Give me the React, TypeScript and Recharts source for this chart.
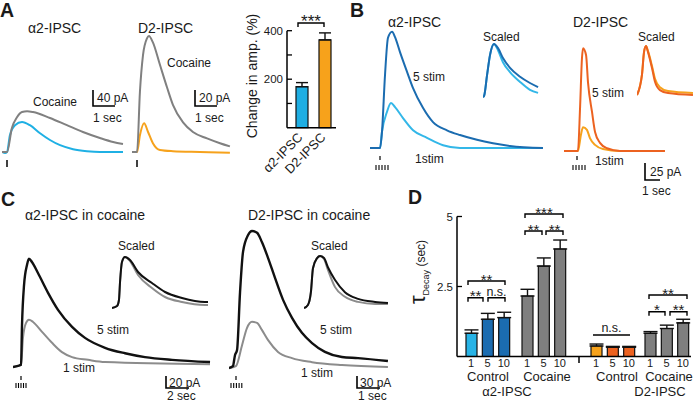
import React from 'react';
import { LineChart, Line, XAxis, YAxis, BarChart, Bar, Cell, ErrorBar } from 'recharts';

const FONT = '"Liberation Sans", Arial, Helvetica, sans-serif';
const INK = '#1a1a1a';

type Pt = [number, number];

// ---------- Panel A traces: [time (s), current (pA)] ----------
const aAlphaControl: Pt[] = [
  [0, 0], [0.14, -2.5], [0.23, 0], [0.36, 42], [0.59, 67], [0.91, 75], [1.27, 67], [1.73, 47],
  [2.18, 30], [2.64, 17], [3.23, 7], [3.86, 2], [4.45, 0], [5.5, 0],
];
const aAlphaCocaine: Pt[] = [
  [0, 0], [0.23, 0], [0.45, 60], [0.68, 87], [0.91, 100], [1.14, 102], [1.41, 100], [2.18, 85],
  [2.95, 67], [3.68, 50], [4.45, 35], [5.05, 25], [5.5, 20],
];
const aD2Control: Pt[] = [
  [0, 0], [0.23, 0], [0.36, 21], [0.55, 36], [0.73, 25], [0.95, 11], [1.27, 2.5], [1.86, 1], [3.09, 0], [4.45, -1],
];
const aD2Cocaine: Pt[] = [
  [0, 0], [0.23, 0], [0.36, 75], [0.5, 121], [0.68, 142], [0.77, 145], [0.95, 137], [1.27, 109],
  [1.59, 81], [1.86, 59], [2.32, 37], [2.77, 25], [3.41, 17], [4.0, 11], [4.45, 7],
];

// ---------- Panel A bar graph ----------
const aBarGroups = ['α2-IPSC', 'D2-IPSC'];
const aBarChange = [169, 362];
const aBarSem = [17, 29];
const aBarColors = ['#1eaee3', '#f7a21b'];

// ---------- Panel B traces ----------
const bAlpha5: Pt[] = [
  [0, 0], [0.67, 0], [0.8, 24], [1.0, 107], [1.2, 162], [1.47, 171], [1.67, 163], [2.0, 141], [2.47, 112],
  [2.87, 88], [3.53, 59], [4.2, 38], [5.13, 26], [6.0, 19], [7.13, 12], [8.2, 7], [9.33, 3], [11.53, 0],
];
const bAlpha1: Pt[] = [
  [0, 0], [0.67, 0], [0.8, 24], [1.13, 53], [1.4, 66], [1.67, 60], [2.2, 44], [2.87, 26], [3.8, 15],
  [4.87, 4], [6.0, 0], [11.53, 0],
];
const bAlpha5Scaled: Pt[] = [
  [0, -2], [0.07, 0], [0.27, 40], [0.47, 79], [0.73, 100], [1.0, 92], [1.33, 73], [1.8, 54], [2.47, 37], [3.13, 25], [3.67, 17],
];
const bAlpha1Scaled: Pt[] = [
  [0, -2], [0.07, 0], [0.27, 40], [0.47, 79], [0.73, 100], [1.0, 88], [1.33, 65], [1.8, 46], [2.47, 27], [3.13, 12], [3.67, 6],
];
const bD25: Pt[] = [
  [0, 0], [0.93, 0], [1.07, 63], [1.2, 137], [1.27, 151], [1.47, 141], [1.6, 101], [1.87, 57], [2.07, 28],
  [2.4, 12], [2.87, 4], [3.73, 0], [6.73, 0],
];
const bD21: Pt[] = [
  [0, 0], [0.93, 0], [1.13, 24], [1.27, 35], [1.53, 31], [1.73, 19], [2.07, 9], [2.6, 3], [3.73, 0], [6.73, 0],
];
const bD25Scaled: Pt[] = [
  [0, 0], [0.33, 41], [0.47, 88], [0.6, 100], [0.73, 88], [1.0, 55], [1.2, 27], [1.53, 10], [2.07, 4], [3.73, 0],
];
const bD21Scaled: Pt[] = [
  [0, 0], [0.33, 41], [0.47, 88], [0.6, 100], [0.73, 90], [1.0, 59], [1.2, 33], [1.53, 16], [2.07, 8], [3.73, 4],
];

// ---------- Panel C traces ----------
const cAlpha5: Pt[] = [
  [0, 0], [0.42, 2], [0.67, 4], [0.75, 76], [0.92, 149], [1.17, 186], [1.33, 197], [1.58, 191], [2.08, 171],
  [2.92, 135], [3.75, 104], [4.92, 73], [6.0, 53], [7.67, 35], [9.33, 25], [11.0, 18], [13.25, 13], [16.42, 9],
];
const cAlpha1: Pt[] = [
  [0, 0], [0.67, 4], [0.83, 53], [1.08, 80], [1.33, 86], [1.67, 82], [2.42, 64], [3.25, 44], [4.08, 27],
  [4.92, 18], [6.25, 13], [7.67, 9], [16.42, 5],
];
const cAlpha5Scaled: Pt[] = [
  [0, -2], [0.42, 2], [0.58, 14], [0.67, 50], [0.83, 90], [1.08, 100], [1.5, 94], [2.17, 70], [3.33, 48],
  [4.42, 30], [5.83, 18], [7.75, 10], [8.0, 10],
];
const cAlpha1Scaled: Pt[] = [
  [0, -2], [0.42, 2], [0.58, 14], [0.67, 50], [0.83, 90], [1.08, 100], [1.5, 92], [2.17, 64], [3.33, 38],
  [4.42, 20], [5.83, 10], [7.75, 4], [8.0, 4],
];
const cD25: Pt[] = [
  [0, 0], [0.17, 5], [0.26, 35], [0.35, 49], [0.48, 207], [0.61, 317], [0.83, 363], [1.0, 374], [1.22, 369],
  [1.43, 344], [1.7, 300], [2.0, 246], [2.35, 186], [2.74, 137], [3.17, 96], [3.61, 68], [4.17, 44],
  [4.91, 30], [5.61, 27], [6.91, 19],
];
const cD21: Pt[] = [
  [0, 0], [0.3, 5], [0.57, 63], [0.78, 109], [1.0, 126], [1.22, 123], [1.43, 104], [1.7, 76], [2.13, 44],
  [2.74, 27], [3.61, 16], [4.91, 8], [6.91, 3],
];
const cD25Scaled: Pt[] = [
  [0, -2], [0.17, 4], [0.3, 29], [0.39, 76], [0.57, 96], [0.7, 100], [0.87, 96], [1.04, 78], [1.35, 53],
  [1.78, 29], [2.35, 16], [3.09, 10], [3.65, 8],
];
const cD21Scaled: Pt[] = [
  [0, -2], [0.17, 4], [0.3, 29], [0.39, 76], [0.57, 96], [0.7, 100], [0.87, 94], [1.04, 73], [1.35, 39],
  [1.78, 20], [2.35, 10], [3.09, 6], [3.65, 6],
];

// ---------- Panel D: decay time constants (s) ----------
const dStim = ['1', '5', '10'];
const dAlphaControlTau = [0.83, 1.33, 1.39];
const dAlphaControlSem = [0.12, 0.21, 0.19];
const dAlphaCocaineTau = [2.16, 3.23, 3.84];
const dAlphaCocaineSem = [0.24, 0.29, 0.32];
const dD2ControlTau = [0.375, 0.33, 0.33];
const dD2ControlSem = [0.07, 0.03, 0.03];
const dD2CocaineTau = [0.83, 1.0, 1.2];
const dD2CocaineSem = [0.06, 0.12, 0.13];

const COL = {
  cyan: '#1fb0e4',
  blue: '#1b6cb0',
  lightBlue: '#33b7e8',
  orange: '#f6a21c',
  darkOrange: '#ec6220',
  gray: '#808080',
  black: '#111111',
  cGray: '#8c8c8c',
  barGray: '#7f7f7f',
};

type Geo = { left: number; right: number; top: number; bottom: number; base: number; pxPerSec: number; unitsPerPx: number };
type Series = { data: Pt[]; color: string; width?: number };

function TraceChart({ geo, series }: { geo: Geo; series: Series[] }) {
  const w = geo.right - geo.left;
  const h = geo.bottom - geo.top;
  const xMax = w / geo.pxPerSec;
  const yMax = (geo.base - geo.top) * geo.unitsPerPx;
  const yMin = (geo.base - geo.bottom) * geo.unitsPerPx;
  return (
    <div style={{ position: 'absolute', left: geo.left, top: geo.top }}>
      <LineChart width={w} height={h} margin={{ top: 0, right: 0, bottom: 0, left: 0 }}>
        <XAxis dataKey="t" type="number" domain={[0, xMax]} hide allowDataOverflow />
        <YAxis type="number" domain={[yMin, yMax]} hide allowDataOverflow />
        {series.map((s, i) => (
          <Line
            key={i}
            data={s.data.map(([t, v]) => ({ t, v }))}
            dataKey="v"
            type="monotone"
            stroke={s.color}
            strokeWidth={s.width ?? 2}
            strokeLinejoin="round"
            dot={false}
            activeDot={false}
            isAnimationActive={false}
          />
        ))}
      </LineChart>
    </div>
  );
}

const makeYTick = (labelled: number[], fontSize: number, skip: number[]) => (props: any) => {
  const { x, y, payload } = props;
  const v = payload.value;
  return (
    <g>
      {!skip.includes(v) && <line x1={x + 4} x2={x + 9} y1={y} y2={y} stroke="#000" strokeWidth={1.3} />}
      {labelled.includes(v) && (
        <text x={x} y={y} dy="0.35em" textAnchor="end" fontSize={fontSize} fill={INK} fontFamily={FONT}>
          {String(v)}
        </text>
      )}
    </g>
  );
};

const aXTick = (props: any) => {
  const { x, y, payload } = props;
  const ax = x + 2;
  const ay = y + 10.5;
  return (
    <text x={ax} y={ay} transform={`rotate(-45 ${ax} ${ay})`} textAnchor="end" fontSize={13} fill={INK} fontFamily={FONT}>
      {payload.value}
    </text>
  );
};

function ABarChart() {
  const data = aBarGroups.map((g, i) => ({ group: g, change: aBarChange[i], sem: [0, aBarSem[i]] }));
  return (
    <div style={{ position: 'absolute', left: 247, top: 20 }}>
      <BarChart width={89} height={160} data={data} margin={{ top: 10.7, right: 0, bottom: 0, left: 0 }}>
        <XAxis
          dataKey="group"
          padding={{ left: 3, right: 0 }}
          axisLine={{ stroke: '#000', strokeWidth: 1.5 }}
          tickLine={false}
          tickSize={0}
          tickMargin={0}
          height={52.3}
          interval={0}
          tick={aXTick}
        />
        <YAxis
          width={40}
          type="number"
          domain={[0, 400]}
          ticks={[0, 100, 200, 300, 400]}
          axisLine={{ stroke: '#000', strokeWidth: 1.5 }}
          tickLine={false}
          tickSize={0}
          tickMargin={4}
          tick={makeYTick([200, 400], 11.5, [0])}
        />
        <Bar dataKey="change" barSize={12} stroke="#111" strokeWidth={1.2} isAnimationActive={false}>
          {data.map((d, i) => (
            <Cell key={i} fill={aBarColors[i]} />
          ))}
          <ErrorBar dataKey="sem" width={6} stroke="#111" strokeWidth={1.4} direction="y" />
        </Bar>
      </BarChart>
    </div>
  );
}

const D_TOP = 200;
const D_PLOT_TOP = 216.5;
const D_PLOT_BOTTOM = 356.5;
const D_X_H = 30;

function TauGroup(props: {
  left: number;
  width: number;
  values: number[];
  sems: number[];
  colors: string[];
  padLeft: number;
  padRight: number;
  withAxis?: boolean;
}) {
  const { left, width, values, sems, colors, padLeft, padRight, withAxis } = props;
  const data = dStim.map((s, i) => ({ stim: s, tau: values[i], sem: [0, sems[i]] }));
  return (
    <div style={{ position: 'absolute', left, top: D_TOP }}>
      <BarChart
        width={width}
        height={D_PLOT_BOTTOM - D_TOP + D_X_H}
        data={data}
        margin={{ top: D_PLOT_TOP - D_TOP, right: 0, bottom: 0, left: 0 }}
      >
        <XAxis
          dataKey="stim"
          padding={{ left: padLeft, right: padRight }}
          axisLine={{ stroke: '#000', strokeWidth: 1.5 }}
          tickLine={false}
          tickSize={0}
          tickMargin={3}
          height={D_X_H}
          interval={0}
          tick={{ fontSize: 11, fill: INK, fontFamily: FONT }}
        />
        <YAxis
          hide={!withAxis}
          width={40}
          type="number"
          domain={[0, 5]}
          ticks={[2.5, 5]}
          axisLine={{ stroke: '#000', strokeWidth: 1.5 }}
          tickLine={false}
          tickSize={0}
          tickMargin={4}
          tick={makeYTick([2.5, 5], 11.5, [])}
        />
        <Bar dataKey="tau" barSize={11} stroke="#111" strokeWidth={1.2} isAnimationActive={false}>
          {data.map((d, i) => (
            <Cell key={i} fill={colors[i]} />
          ))}
          <ErrorBar dataKey="sem" width={7} stroke="#111" strokeWidth={1.4} direction="y" />
        </Bar>
      </BarChart>
    </div>
  );
}

// ---------- overlay helpers ----------
function T({ x, y, s = 12, a = 'start', w = 400, children }: any) {
  return (
    <text x={x} y={y} fontSize={s} textAnchor={a} fontWeight={w} fill={INK} fontFamily={FONT}>
      {children}
    </text>
  );
}
function Ln({ x1, y1, x2, y2, w = 1.5 }: any) {
  return <line x1={x1} y1={y1} x2={x2} y2={y2} stroke="#000" strokeWidth={w} />;
}
function Bracket({ x1, x2, y, drop = 4, label, size = 15, ns = false }: any) {
  return (
    <g>
      <path d={`M${x1} ${y + drop} V${y} H${x2} V${y + drop}`} fill="none" stroke="#000" strokeWidth={1.4} />
      {ns ? (
        <T x={(x1 + x2) / 2} y={y - 2} s={12.5} a="middle">{label}</T>
      ) : (
        <T x={(x1 + x2) / 2} y={y + 3.5} s={size} a="middle">{label}</T>
      )}
    </g>
  );
}
function ScaleBar({ x, yTop, yBot, xEnd }: any) {
  return <path d={`M${x} ${yTop} V${yBot} H${xEnd}`} fill="none" stroke="#000" strokeWidth={1.6} />;
}
function Stim5({ x0, step, y1, y2, single, sy1, sy2 }: any) {
  return (
    <g>
      <Ln x1={single} x2={single} y1={sy1} y2={sy2} w={1.2} />
      {[0, 1, 2, 3, 4].map((k) => (
        <Ln key={k} x1={x0 + k * step} x2={x0 + k * step} y1={y1} y2={y2} w={1.1} />
      ))}
    </g>
  );
}

function Overlay() {
  return (
    <svg width={700} height={403} style={{ position: 'absolute', left: 0, top: 0, pointerEvents: 'none' }}>
      {/* Panel A */}
      <T x={0} y={17} s={19.5} w={700}>A</T>
      <T x={28} y={33} s={14}>α2-IPSC</T>
      <T x={138} y={33} s={14}>D2-IPSC</T>
      <T x={33} y={105.5}>Cocaine</T>
      <T x={167} y={67}>Cocaine</T>
      <ScaleBar x={93} yTop={90} yBot={106} xEnd={115} />
      <T x={97} y={102}>40 pA</T>
      <T x={93} y={122}>1 sec</T>
      <ScaleBar x={195} yTop={90} yBot={106} xEnd={217} />
      <T x={199} y={102}>20 pA</T>
      <T x={195} y={122}>1 sec</T>
      <Ln x1={7} x2={7} y1={160} y2={167} />
      <Ln x1={137} x2={137} y1={160} y2={167} />
      <Bracket x1={298} x2={324} y={23} label="***" size={17} />
      <text transform="translate(257,76) rotate(-90)" textAnchor="middle" fontSize={14} fill={INK} fontFamily={FONT}>
        Change in amp. (%)
      </text>

      {/* Panel B */}
      <T x={350} y={16.5} s={19.5} w={700}>B</T>
      <T x={388} y={27} s={14}>α2-IPSC</T>
      <T x={573} y={27} s={14}>D2-IPSC</T>
      <T x={483} y={41}>Scaled</T>
      <T x={638} y={41}>Scaled</T>
      <T x={413} y={81}>5 stim</T>
      <T x={415} y={163}>1stim</T>
      <T x={592} y={97}>5 stim</T>
      <T x={595} y={165}>1stim</T>
      <Stim5 single={380} sy1={156} sy2={160} x0={376} step={3} y1={165} y2={170} />
      <Stim5 single={577} sy1={156} sy2={160} x0={573} step={3} y1={165} y2={170} />
      <ScaleBar x={645} yTop={163} yBot={180} xEnd={660} />
      <T x={650} y={176}>25 pA</T>
      <T x={642} y={195}>1 sec</T>

      {/* Panel C */}
      <T x={1} y={206} s={19.5} w={700}>C</T>
      <T x={25} y={220} s={14}>α2-IPSC in cocaine</T>
      <T x={248} y={220} s={14}>D2-IPSC in cocaine</T>
      <T x={118} y={249.5}>Scaled</T>
      <T x={311} y={249.5}>Scaled</T>
      <T x={97} y={333.5}>5 stim</T>
      <T x={63} y={372}>1 stim</T>
      <T x={320} y={333.5}>5 stim</T>
      <T x={301} y={377}>1 stim</T>
      <Stim5 single={21} sy1={376} sy2={380} x0={16} step={2.5} y1={383} y2={388} />
      <Stim5 single={236} sy1={376} sy2={380} x0={231} step={2.7} y1={383} y2={388} />
      <ScaleBar x={166} yTop={376} yBot={388} xEnd={189} />
      <T x={169} y={387}>20 pA</T>
      <T x={167} y={400}>2 sec</T>
      <ScaleBar x={357} yTop={376} yBot={388} xEnd={380} />
      <T x={360} y={387}>30 pA</T>
      <T x={358} y={400}>1 sec</T>

      {/* Panel D */}
      <T x={408} y={204} s={19.5} w={700}>D</T>
      <text transform="translate(425,272) rotate(-90)" textAnchor="middle" fill={INK} fontFamily={FONT}>
        <tspan fontSize={22}>τ</tspan>
        <tspan fontSize={9} dy={4}>Decay</tspan>
        <tspan fontSize={12} dy={-4}> (sec)</tspan>
      </text>
      <Bracket x1={468} x2={505} y={281} label="**" />
      <Bracket x1={468} x2={483} y={297.7} label="**" />
      <Bracket x1={488} x2={505} y={297.7} label="n.s." ns />
      <Bracket x1={525} x2={563} y={214} label="***" />
      <Bracket x1={525} x2={542} y={231} label="**" />
      <Bracket x1={546} x2={563} y={231} label="**" />
      <Ln x1={593} x2={630} y1={335} y2={335} w={1.4} />
      <T x={611.5} y={332} s={12.5} a="middle">n.s.</T>
      <Bracket x1={649} x2={687} y={295} label="**" />
      <Bracket x1={649} x2={665} y={311.7} label="*" />
      <Bracket x1={670} x2={687} y={311.7} label="**" />
      <Ln x1={579} x2={579} y1={357} y2={363} />
      <T x={488} y={381} s={13} a="middle">Control</T>
      <T x={547} y={381} s={13} a="middle">Cocaine</T>
      <T x={617} y={381} s={13} a="middle">Control</T>
      <T x={669} y={381} s={13} a="middle">Cocaine</T>
      <T x={507} y={395.5} s={13} a="middle">α2-IPSC</T>
      <T x={660} y={395.5} s={13} a="middle">D2-IPSC</T>
    </svg>
  );
}

export default function App() {
  return (
    <div
      style={{
        position: 'absolute',
        left: 0,
        top: 0,
        width: 700,
        height: 403,
        background: '#fff',
        overflow: 'hidden',
        fontFamily: FONT,
      }}
    >
      {/* A traces */}
      <TraceChart
        geo={{ left: 2, right: 125, top: 100, bottom: 156, base: 152, pxPerSec: 22, unitsPerPx: 2.5 }}
        series={[
          { data: aAlphaControl, color: COL.cyan },
          { data: aAlphaCocaine, color: COL.gray },
        ]}
      />
      <TraceChart
        geo={{ left: 132, right: 232, top: 30, bottom: 156, base: 152, pxPerSec: 22, unitsPerPx: 1.25 }}
        series={[
          { data: aD2Control, color: COL.orange },
          { data: aD2Cocaine, color: COL.gray },
        ]}
      />
      <ABarChart />

      {/* B traces */}
      <TraceChart
        geo={{ left: 370, right: 545, top: 25, bottom: 152, base: 148, pxPerSec: 15, unitsPerPx: 1.47 }}
        series={[
          { data: bAlpha1, color: COL.lightBlue },
          { data: bAlpha5, color: COL.blue },
        ]}
      />
      <TraceChart
        geo={{ left: 483, right: 540, top: 40, bottom: 100, base: 96, pxPerSec: 15, unitsPerPx: 100 / 52 }}
        series={[
          { data: bAlpha1Scaled, color: COL.lightBlue },
          { data: bAlpha5Scaled, color: COL.blue },
        ]}
      />
      <TraceChart
        geo={{ left: 564, right: 667, top: 40, bottom: 155, base: 151, pxPerSec: 15, unitsPerPx: 1.47 }}
        series={[
          { data: bD21, color: COL.orange },
          { data: bD25, color: COL.darkOrange },
        ]}
      />
      <TraceChart
        geo={{ left: 637, right: 695, top: 40, bottom: 100, base: 95, pxPerSec: 15, unitsPerPx: 100 / 49 }}
        series={[
          { data: bD21Scaled, color: COL.orange },
          { data: bD25Scaled, color: COL.darkOrange },
        ]}
      />

      {/* C traces */}
      <TraceChart
        geo={{ left: 13, right: 212, top: 250, bottom: 372, base: 367, pxPerSec: 12, unitsPerPx: 1.82 }}
        series={[
          { data: cAlpha1, color: COL.cGray },
          { data: cAlpha5, color: COL.black, width: 2.4 },
        ]}
      />
      <TraceChart
        geo={{ left: 112, right: 210, top: 250, bottom: 312, base: 307, pxPerSec: 12, unitsPerPx: 2 }}
        series={[
          { data: cAlpha1Scaled, color: COL.cGray },
          { data: cAlpha5Scaled, color: COL.black },
        ]}
      />
      <TraceChart
        geo={{ left: 229, right: 392, top: 225, bottom: 372, base: 368, pxPerSec: 23, unitsPerPx: 2.73 }}
        series={[
          { data: cD21, color: COL.cGray },
          { data: cD25, color: COL.black, width: 2.4 },
        ]}
      />
      <TraceChart
        geo={{ left: 304, right: 390, top: 250, bottom: 312, base: 307, pxPerSec: 23, unitsPerPx: 100 / 51 }}
        series={[
          { data: cD21Scaled, color: COL.cGray },
          { data: cD25Scaled, color: COL.black },
        ]}
      />

      {/* D bar groups */}
      <TauGroup
        left={417}
        width={102}
        values={dAlphaControlTau}
        sems={dAlphaControlSem}
        colors={['#27b3e6', COL.blue, COL.blue]}
        padLeft={6}
        padRight={7}
        withAxis
      />
      <TauGroup
        left={519}
        width={68}
        values={dAlphaCocaineTau}
        sems={dAlphaCocaineSem}
        colors={[COL.barGray, COL.barGray, COL.barGray]}
        padLeft={0}
        padRight={19}
      />
      <TauGroup
        left={587}
        width={55}
        values={dD2ControlTau}
        sems={dD2ControlSem}
        colors={[COL.orange, COL.darkOrange, COL.darkOrange]}
        padLeft={1}
        padRight={5}
      />
      <TauGroup
        left={642}
        width={49}
        values={dD2CocaineTau}
        sems={dD2CocaineSem}
        colors={[COL.barGray, COL.barGray, COL.barGray]}
        padLeft={0}
        padRight={0}
      />

      <Overlay />
    </div>
  );
}
